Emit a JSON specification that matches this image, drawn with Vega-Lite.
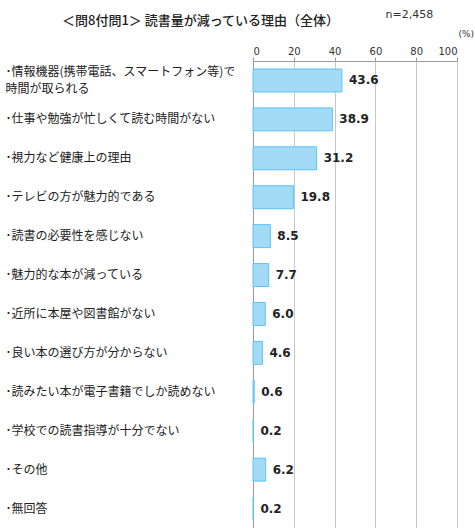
{
  "$schema": "https://vega.github.io/schema/vega-lite/v6.json",
  "width": 204,
  "height": 467,
  "autosize": "none",
  "padding": {"left": 253, "top": 61, "right": 18, "bottom": 0},
  "background": "white",
  "config": {"view": {"stroke": null}, "font": "Noto Sans CJK JP"},
  "title": {
    "text": "＜問8付問1＞ 読書量が減っている理由（全体）",
    "anchor": "start",
    "frame": "group",
    "dx": -191,
    "dy": 30,
    "fontSize": 13,
    "fontWeight": 500,
    "color": "#222222",
    "font": "Noto Sans CJK JP",
    "offset": 10
  },
  "data": {
    "values": [
      {"label": "･情報機器(携帯電話、スマートフォン等)で|時間が取られる", "value": 43.6},
      {"label": "･仕事や勉強が忙しくて読む時間がない", "value": 38.9},
      {"label": "･視力など健康上の理由", "value": 31.2},
      {"label": "･テレビの方が魅力的である", "value": 19.8},
      {"label": "･読書の必要性を感じない", "value": 8.5},
      {"label": "･魅力的な本が減っている", "value": 7.7},
      {"label": "･近所に本屋や図書館がない", "value": 6.0},
      {"label": "･良い本の選び方が分からない", "value": 4.6},
      {"label": "･読みたい本が電子書籍でしか読めない", "value": 0.6},
      {"label": "･学校での読書指導が十分でない", "value": 0.2},
      {"label": "･その他", "value": 6.2},
      {"label": "･無回答", "value": 0.2}
    ]
  },
  "encoding": {
    "y": {
      "field": "label",
      "type": "nominal",
      "sort": null,
      "scale": {"paddingInner": 0.41, "paddingOuter": 0.205},
      "axis": {
        "orient": "left",
        "labelExpr": "split(datum.label, '|')",
        "labelAlign": "left",
        "labelBaseline": "middle",
        "labelOffset": {"condition": {"test": "indexof(datum.value, '|') >= 0", "value": -8}, "value": 0},
        "labelPadding": 248,
        "labelLimit": 300,
        "labelFontSize": 12,
        "labelLineHeight": 17,
        "labelColor": "#222222",
        "labelFont": "Noto Sans CJK JP",
        "ticks": false,
        "domain": true,
        "domainColor": "#9a9a9a",
        "grid": false,
        "title": "n=2,458",
        "titleAngle": 0,
        "titleX": 132,
        "titleY": -47,
        "titleAlign": "left",
        "titleBaseline": "middle",
        "titleFont": "DejaVu Sans",
        "titleFontSize": 11,
        "titleFontWeight": "normal",
        "titleColor": "#333333"
      }
    },
    "x": {
      "field": "value",
      "type": "quantitative",
      "scale": {"domain": [0, 100], "nice": false},
      "axis": {
        "orient": "top",
        "values": [0, 20, 40, 60, 80, 100],
        "labelFont": "DejaVu Sans",
        "labelFontSize": 10,
        "labelColor": "#333333",
        "labelPadding": 1,
        "tickSize": 4,
        "tickColor": "#9a9a9a",
        "domain": true,
        "domainColor": "#9a9a9a",
        "grid": true,
        "gridColor": "#c8c8c8",
        "title": "(%)",
        "titleX": 205,
        "titleY": -28,
        "titleAlign": "left",
        "titleBaseline": "middle",
        "titleFont": "DejaVu Sans",
        "titleFontSize": 9,
        "titleFontWeight": "normal",
        "titleColor": "#333333"
      }
    }
  },
  "layer": [
    {
      "mark": {"type": "bar", "fill": "#a3dbf7", "stroke": "#5bc4f1", "strokeWidth": 1}
    },
    {
      "mark": {
        "type": "text",
        "align": "left",
        "baseline": "middle",
        "dx": 7,
        "font": "DejaVu Sans",
        "fontSize": 12,
        "fontWeight": "bold",
        "color": "#222222"
      },
      "encoding": {"text": {"field": "value", "type": "quantitative", "format": ".1f"}}
    }
  ]
}
